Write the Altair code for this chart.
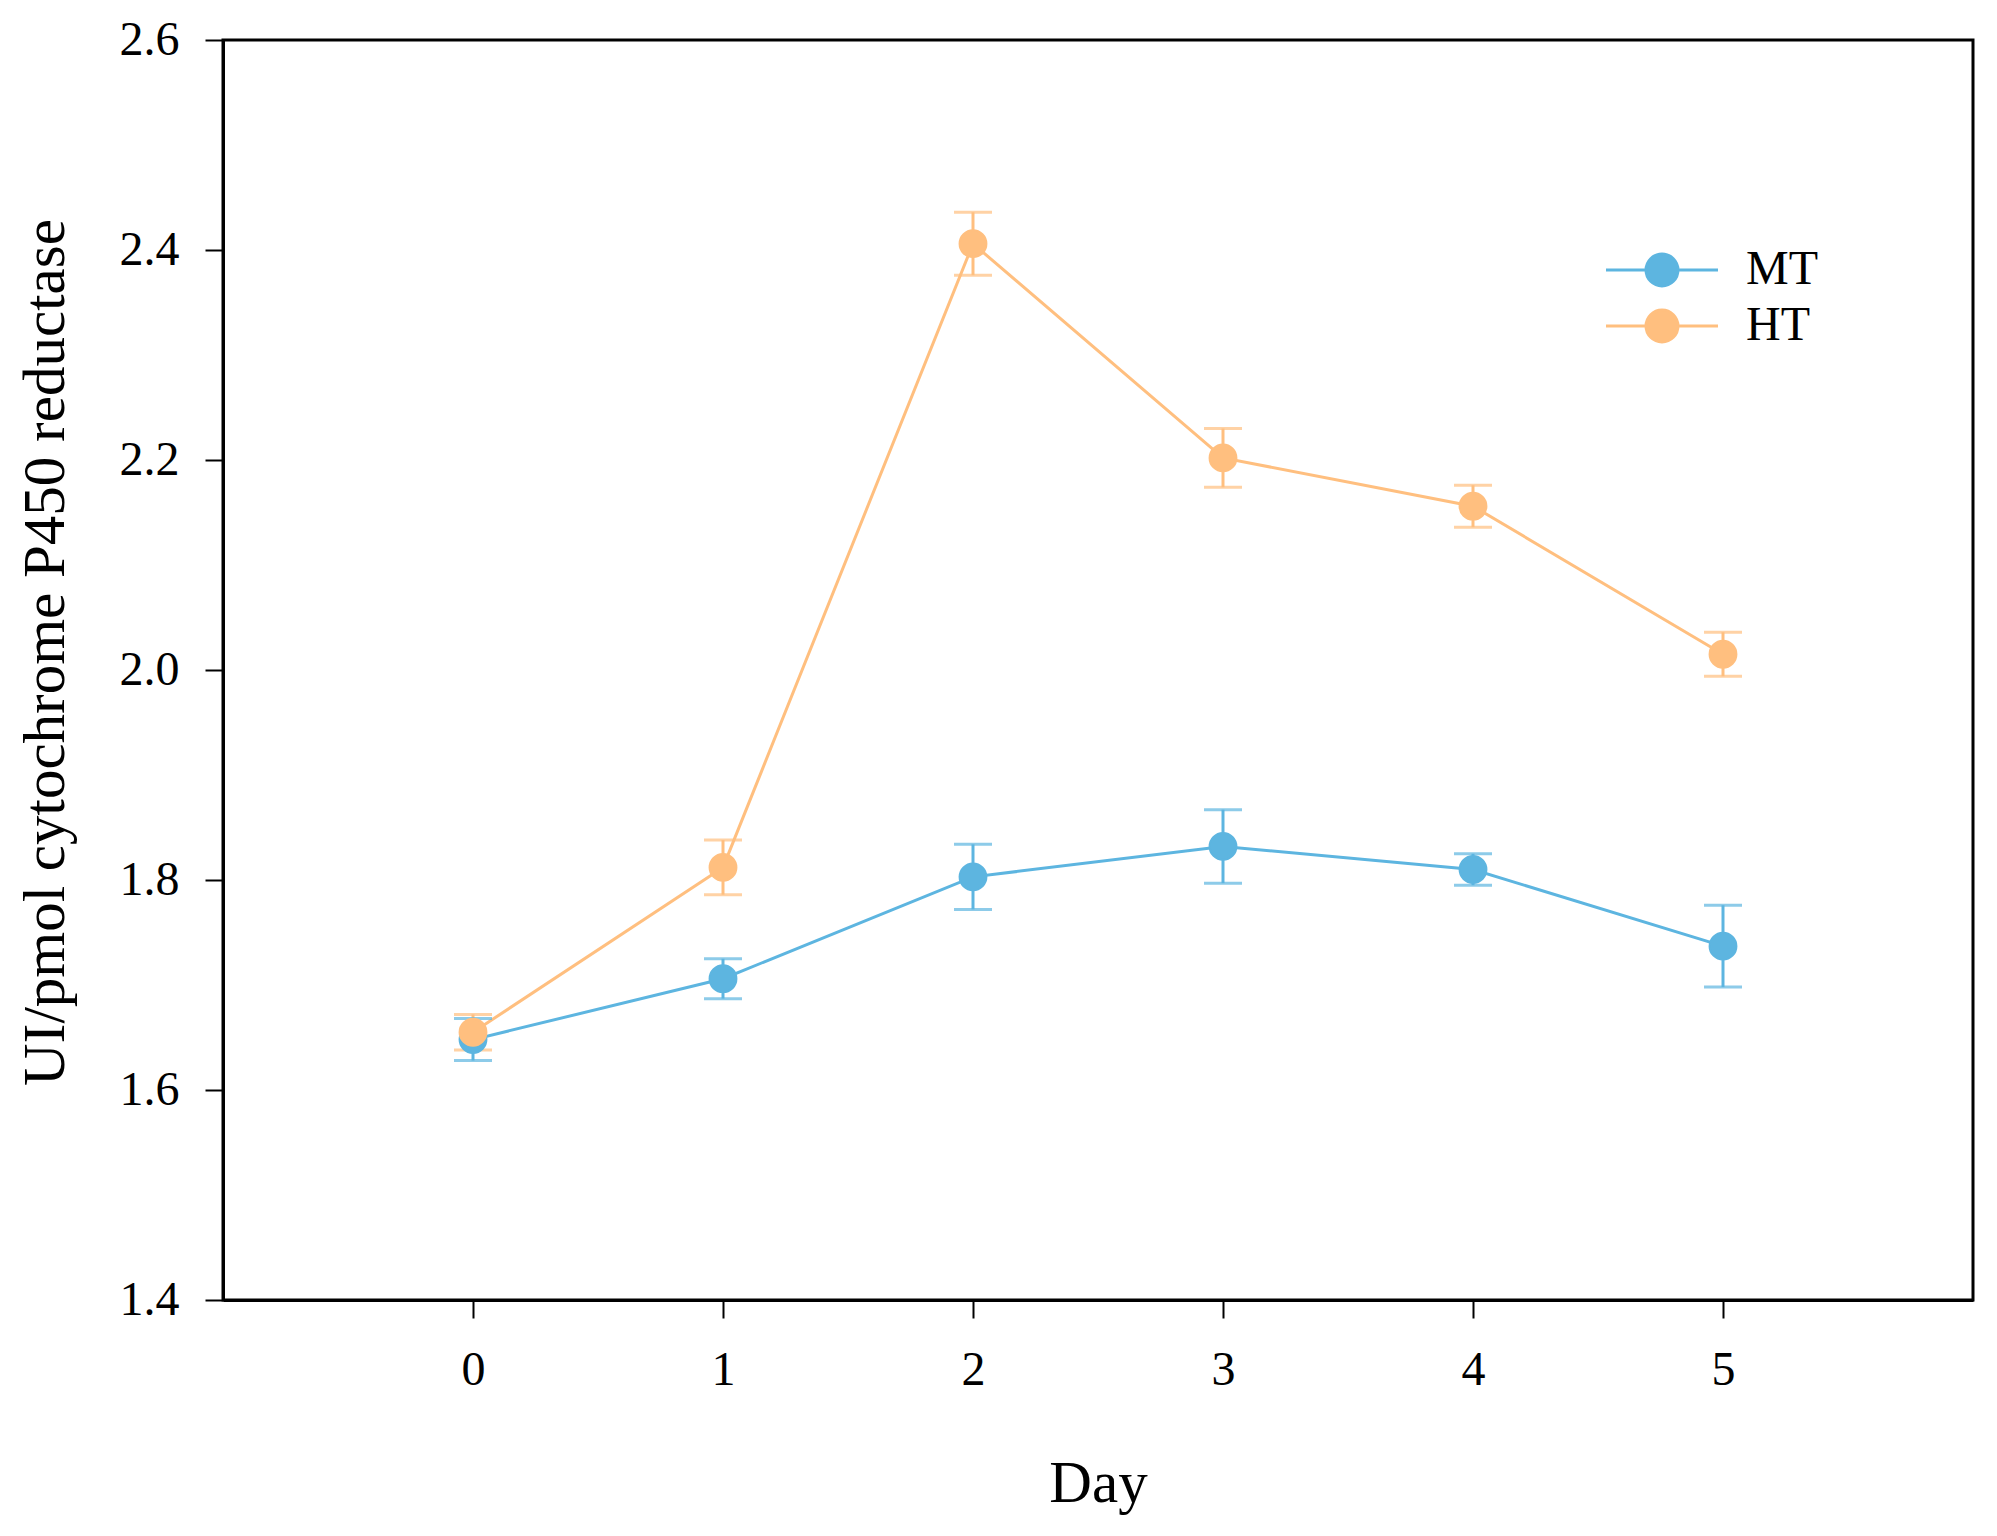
import altair as alt
import pandas as pd

# ---- data ----
days = [0, 1, 2, 3, 4, 5]
series = ["MT", "HT"]
mt_mean = [1.648, 1.706, 1.803, 1.832, 1.810, 1.737]
mt_err = [0.020, 0.019, 0.031, 0.035, 0.015, 0.039]
ht_mean = [1.655, 1.812, 2.406, 2.202, 2.156, 2.015]
ht_err = [0.017, 0.026, 0.030, 0.028, 0.020, 0.021]
colors = ["#5DB5E0", "#FFBF7F"]
y_ticks = [1.4, 1.6, 1.8, 2.0, 2.2, 2.4, 2.6]

rows = []
for name, means, errs in ((series[0], mt_mean, mt_err), (series[1], ht_mean, ht_err)):
    for d, m, e in zip(days, means, errs):
        rows.append({"day": d, "series": name, "mean": m, "lo": m - e, "hi": m + e})
df = pd.DataFrame(rows)

FONT = "Liberation Serif"

x = alt.X(
    "day:Q",
    scale=alt.Scale(domain=[-1, 6], nice=False, zero=False),
    axis=alt.Axis(
        values=days, format="d", title="Day", grid=False,
        labelFontSize=48, titleFontSize=59, labelFont=FONT, titleFont=FONT,
        labelColor="black", titleColor="black", titleFontWeight="normal",
        tickSize=18, tickWidth=2, tickColor="black",
        domainColor="black", domainWidth=3, labelPadding=28,
        titleBaseline="alphabetic", titleY=201,
    ),
)
y = alt.Y(
    "mean:Q",
    scale=alt.Scale(domain=[1.4, 2.6], nice=False, zero=False),
    axis=alt.Axis(
        values=y_ticks, format=".1f", title="UI/pmol cytochrome P450 reductase",
        grid=False, labelFontSize=48, titleFontSize=59, labelFont=FONT,
        titleFont=FONT, labelColor="black", titleColor="black",
        titleFontWeight="normal", tickSize=18, tickWidth=2, tickColor="black",
        domainColor="black", domainWidth=3, labelPadding=26,
        titleBaseline="alphabetic", titleX=-160, titleY=612,
    ),
)

legend = alt.Legend(
    title=None, orient="none", legendX=1415, legendY=206,
    symbolType="M -3.5 0 L -1 0 M 1 0 L 3.5 0 M -1 0 A 1 1 0 1 0 1 0 A 1 1 0 1 0 -1 0 Z",
    symbolSize=1024, symbolStrokeWidth=3, symbolOpacity=1,
    labelFont=FONT, labelFontSize=48, labelColor="black", labelOffset=60,
    rowPadding=8, padding=0,
)

stroke = alt.Stroke("series:N", scale=alt.Scale(domain=series, range=colors), legend=legend)
fill = alt.Fill("series:N", scale=alt.Scale(domain=series, range=colors), legend=legend)

base = alt.Chart(df)

lines = base.mark_line(strokeWidth=3).encode(x=x, y=y, stroke=stroke)
bars = base.mark_rule(strokeWidth=3).encode(x=x, y=alt.Y("lo:Q"), y2="hi:Q", stroke=stroke)
caps_hi = base.mark_tick(orient="horizontal", size=38, thickness=3).encode(
    x=x, y=alt.Y("hi:Q"), color=alt.Color("series:N", scale=alt.Scale(domain=series, range=colors), legend=None)
)
caps_lo = base.mark_tick(orient="horizontal", size=38, thickness=3).encode(
    x=x, y=alt.Y("lo:Q"), color=alt.Color("series:N", scale=alt.Scale(domain=series, range=colors), legend=None)
)
points = base.mark_point(size=720, filled=True, opacity=1, strokeWidth=2, shape="circle").encode(
    x=x, y=y, fill=fill, stroke=stroke
)

chart = (
    alt.layer(lines, bars, caps_hi, caps_lo, points)
    .properties(
        width=1750, height=1260,
        autosize=alt.AutoSizeParams(type="none"),
        padding={"left": 215, "top": 32, "right": 12, "bottom": 220},
        background="white",
    )
    .configure_view(stroke="#000000", strokeWidth=3, strokeOpacity=1)
)

chart.save("out.html", embed_options={"renderer": "svg", "actions": False})
